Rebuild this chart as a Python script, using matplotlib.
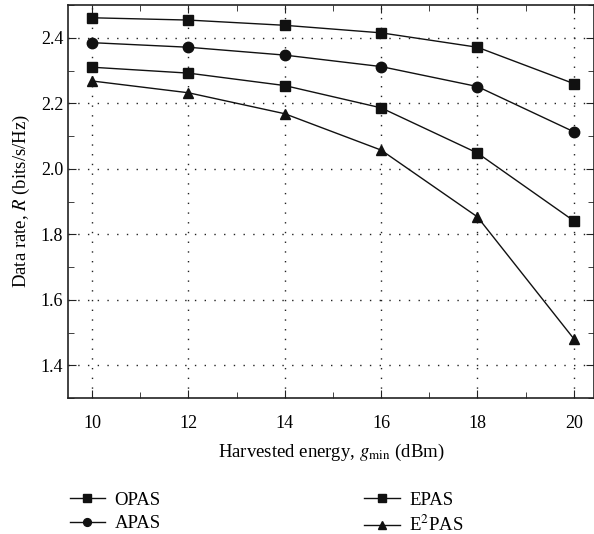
import matplotlib
matplotlib.use("Agg")
import matplotlib.pyplot as plt
from matplotlib.ticker import MultipleLocator

plt.rcParams['font.family'] = ['Liberation Serif', 'DejaVu Serif']
plt.rcParams['mathtext.fontset'] = 'stix'

energy = [10, 12, 14, 16, 18, 20]
opas = [2.461, 2.454, 2.438, 2.415, 2.371, 2.260]
apas = [2.385, 2.371, 2.347, 2.312, 2.251, 2.113]
epas = [2.310, 2.292, 2.254, 2.186, 2.048, 1.841]
e2pas = [2.268, 2.232, 2.168, 2.057, 1.853, 1.481]

fig = plt.figure(figsize=(5.94, 5.34), dpi=100)
ax = fig.add_axes([68/594, 1-398/534, (594-68)/594, (398-5)/534])

kw = dict(color='#111111', lw=1.0, markersize=7.5, markeredgecolor='#111111', markerfacecolor='#111111')
l1, = ax.plot(energy, opas, marker='s', label='OPAS', **kw)
l2, = ax.plot(energy, apas, marker='o', label='APAS', **kw)
l3, = ax.plot(energy, epas, marker='s', label='EPAS', **kw)
l4, = ax.plot(energy, e2pas, marker='^', label='E$^2$PAS', **kw)

ax.set_xlim(9.5, 20.42)
ax.set_ylim(1.3, 2.5)
ax.xaxis.set_major_locator(MultipleLocator(2))
ax.xaxis.set_minor_locator(MultipleLocator(1))
ax.yaxis.set_major_locator(MultipleLocator(0.2))
ax.yaxis.set_minor_locator(MultipleLocator(0.1))
ax.yaxis.set_major_formatter(matplotlib.ticker.FormatStrFormatter('%.1f'))
ax.tick_params(which='both', direction='in', top=True, right=True, labelsize=13, color='#222222')
ax.tick_params(which='major', length=6)
ax.tick_params(which='minor', length=4)
ax.tick_params(axis='x', pad=12)
ax.grid(True, which='major', linestyle=(0, (1, 6)), color='#222222', lw=1.0)
for s in ax.spines.values():
    s.set_color('#222222')
    s.set_linewidth(1.2)

ax.set_xlabel('Harvested energy, $g_{\\min}$ (dBm)', fontsize=13.5, labelpad=7)
ax.set_ylabel('Data rate, $R$ (bits/s/Hz)', fontsize=13.5, labelpad=6)

fig.legend(handles=[l1, l2, l3, l4], loc='upper left', bbox_to_anchor=(62/594, 1-484/534),
           ncol=2, frameon=False, fontsize=13.5, handlelength=1.9, handletextpad=0.5,
           columnspacing=10.85, labelspacing=0.35, borderaxespad=0, markerscale=0.75)

fig.savefig('out.png', dpi=100)
